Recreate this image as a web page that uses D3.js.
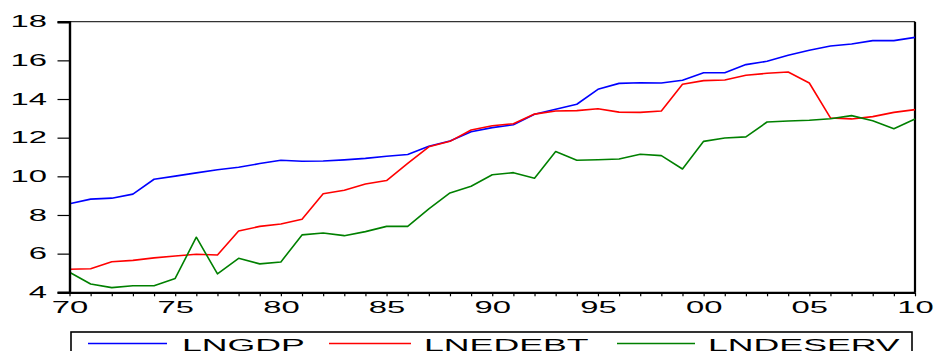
<!DOCTYPE html>
<html>
<head>
<meta charset="utf-8">
<script src="https://cdn.jsdelivr.net/npm/d3@7"></script>
<style>
  html, body { margin: 0; padding: 0; background: #fff; overflow: hidden; }
  svg { display: block; }
  text { font-family: "Liberation Sans", Arial, sans-serif; fill: #000; }
</style>
</head>
<body>
<svg id="chart" width="935" height="351"></svg>
<script>
// Annual observations, 1970–2010
const years = d3.range(1970, 2011);

const lngdp = [
  8.58, 8.82, 8.87, 9.08, 9.85, 10.01, 10.18, 10.34, 10.47, 10.66,
  10.83, 10.78, 10.79, 10.85, 10.93, 11.04, 11.13, 11.56, 11.83, 12.31,
  12.52, 12.67, 13.21, 13.47, 13.73, 14.50, 14.81, 14.84, 14.83, 14.97,
  15.36, 15.36, 15.78, 15.95, 16.26, 16.52, 16.74, 16.85, 17.02, 17.02,
  17.19
];

const lnedebt = [
  5.19, 5.22, 5.58, 5.65, 5.78, 5.88, 5.97, 5.93, 7.17, 7.41,
  7.53, 7.78, 9.10, 9.28, 9.60, 9.78, 10.67, 11.53, 11.81, 12.40,
  12.62, 12.72, 13.22, 13.38, 13.40, 13.50, 13.32, 13.31, 13.38, 14.76,
  14.95, 14.98, 15.23, 15.33, 15.40, 14.83, 13.02, 12.97, 13.09, 13.31,
  13.45
];

const lndeserv = [
  5.04, 4.43, 4.24, 4.34, 4.34, 4.72, 6.85, 4.95, 5.76, 5.47,
  5.57, 6.97, 7.07, 6.93, 7.14, 7.41, 7.41, 8.32, 9.14, 9.49,
  10.08, 10.19, 9.90, 11.28, 10.83, 10.86, 10.90, 11.14, 11.07, 10.38,
  11.81, 11.98, 12.04, 12.81, 12.86, 12.90, 12.98, 13.14, 12.88, 12.46,
  12.97
];

const seriesNames = ["LNGDP", "LNEDEBT", "LNDESERV"];
const seriesColors = ["#0000ff", "#ff0000", "#008000"];
const seriesValues = [lngdp, lnedebt, lndeserv];

const yTicks = [4, 6, 8, 10, 12, 14, 16, 18];
const xLabelYears = [1970, 1975, 1980, 1985, 1990, 1995, 2000, 2005, 2010];

// Layout
const plot = { left: 69.5, right: 915, top: 21.7, bottom: 292.3 };
const stretch = 2.05;   // wide lettering used throughout
const fontSize = 16;

const svg = d3.select("#chart");

const x = d3.scaleLinear().domain([1970, 2010]).range([plot.left, plot.right]);
const y = d3.scaleLinear().domain([4, 18]).range([plot.bottom, plot.top]);

// Frame: thin grey top edge, heavy right edge
svg.append("line")
  .attr("x1", plot.left).attr("x2", plot.right)
  .attr("y1", plot.top).attr("y2", plot.top)
  .attr("stroke", "#333").attr("stroke-width", 1.2);
svg.append("line")
  .attr("x1", plot.right).attr("x2", plot.right)
  .attr("y1", plot.top).attr("y2", plot.bottom)
  .attr("stroke", "#000").attr("stroke-width", 2.2);

// Series lines
const line = d3.line()
  .x((d, i) => x(years[i]))
  .y(d => y(d));

seriesValues.forEach((vals, k) => {
  svg.append("path")
    .datum(vals)
    .attr("fill", "none")
    .attr("stroke", seriesColors[k])
    .attr("stroke-width", 1.6)
    .attr("stroke-linejoin", "round")
    .attr("d", line);
});

// Y axis
const yAxis = svg.append("g")
  .attr("transform", `translate(${plot.left},0)`)
  .call(d3.axisLeft(y).tickValues(yTicks).tickSize(12).tickPadding(10).tickFormat(d3.format("d")));
yAxis.select(".domain").attr("stroke", "#000").attr("stroke-width", 2.4);
yAxis.selectAll(".tick line").attr("stroke", "#000").attr("stroke-width", 1.2);
yAxis.selectAll(".tick text")
  .attr("font-size", fontSize)
  .attr("font-family", null)
  .attr("fill", "#000")
  .attr("x", -22.5 / stretch)
  .attr("transform", `scale(${stretch},1)`);

// X axis: a tick every year, labels every five years
const xAxis = svg.append("g")
  .attr("transform", `translate(0,${plot.bottom})`)
  .call(d3.axisBottom(x).tickValues(years).tickSize(4).tickSizeOuter(0)
    .tickFormat(d => xLabelYears.includes(d) ? String(d % 100).padStart(2, "0") : ""));
xAxis.select(".domain").attr("stroke", "#000").attr("stroke-width", 2.2);
xAxis.selectAll(".tick line").attr("stroke", "#000").attr("stroke-width", 1.2);
xAxis.selectAll(".tick text")
  .attr("font-size", fontSize)
  .attr("font-family", null)
  .attr("fill", "#000")
  .attr("y", 9)
  .attr("transform", `scale(${stretch},1)`);

// Legend box (runs off the bottom edge)
const legend = svg.append("g");
legend.append("rect")
  .attr("x", 71).attr("y", 332)
  .attr("width", 841).attr("height", 40)
  .attr("fill", "#fff").attr("stroke", "#000").attr("stroke-width", 1.6);

const legendItems = [
  { x1: 88, x2: 167, tx: 182 },
  { x1: 329, x2: 411, tx: 424 },
  { x1: 617, x2: 695, tx: 708 }
];
legendItems.forEach((it, k) => {
  legend.append("line")
    .attr("x1", it.x1).attr("x2", it.x2)
    .attr("y1", 343.5).attr("y2", 343.5)
    .attr("stroke", seriesColors[k]).attr("stroke-width", 1.3);
  legend.append("text")
    .attr("transform", `translate(${it.tx},350.5) scale(${stretch + 0.05},1)`)
    .attr("font-size", 17)
    .text(seriesNames[k]);
});
</script>
</body>
</html>
